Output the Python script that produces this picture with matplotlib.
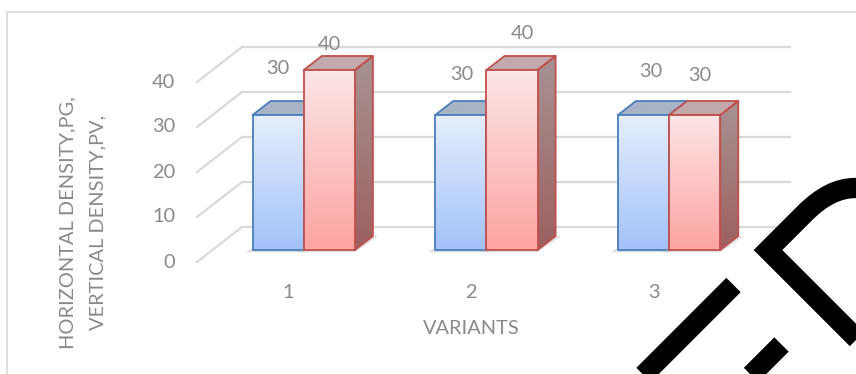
import numpy as np
import matplotlib.pyplot as plt
from matplotlib.patches import Polygon, Rectangle, PathPatch
from matplotlib.path import Path
from matplotlib.colors import LinearSegmentedColormap

# data
categories = ['1', '2', '3']
horizontal_density = [30, 30, 30]   # blue series
vertical_density = [40, 40, 30]     # red series
yticks = [0, 10, 20, 30, 40]
ylabel_lines = ['HORIZONTAL DENSITY,PG,', 'VERTICAL DENSITY,PV,']
xlabel = 'VARIANTS'

# label nudges (pixels) for the value labels, as Excel placed them
blue_lbl_off = [(0, 46), (1, 40), (7, 43)]
red_lbl_off = [(0, 25), (10, 36), (5, 39)]

W, H = 856, 374
plt.rcParams['font.family'] = ['Lato', 'DejaVu Sans']
GRAY = '#8a8a8a'
FS = 14.4

fig = plt.figure(figsize=(W / 100, H / 100), dpi=100)
ax = fig.add_axes([0, 0, 1, 1])
ax.set_axis_off()

# oblique "3d" geometry in data units
PX_X = 182.67          # pixels per category
PX_Y = 4.5             # pixels per value unit
X0_PX, Y0_PX = 197, 262
DX, DY = 45 / PX_X, 35 / PX_Y   # full depth of the floor
D1, D2 = 0.343, 0.743           # bar front / back depth
BW = 0.28

ax.set_xlim(0.5 - X0_PX / PX_X, 0.5 + (W - X0_PX) / PX_X)
ax.set_ylim(-(H - Y0_PX) / PX_Y, Y0_PX / PX_Y)

# chart frame
fig.patches.append(Rectangle((7 / W, -0.1), 1.2, 1 - 12 / H + 0.1,
                             transform=fig.transFigure, fill=False,
                             ec='#d9d9d9', lw=1.2))

# walls gridlines
nc = len(categories)
for v in yticks:
    ax.plot([0.5 + DX, nc + 0.5 + DX], [v + DY, v + DY], color='#d9d9d9', lw=1.6, zorder=1)
    ax.plot([0.5, 0.5 + DX], [v, v + DY], color='#d9d9d9', lw=1.6, zorder=1)
    ax.text(0.5 - 22 / PX_X, v, str(v), ha='right', va='center', color=GRAY, fontsize=FS)


def grad_face(verts, top, bottom, ec, z):
    cmap = LinearSegmentedColormap.from_list('g', [bottom, top])
    verts = np.array(verts)
    poly = Polygon(verts, closed=True, fc='none', ec=ec, lw=1.3, zorder=z + 0.1,
                   joinstyle='round')
    ax.add_patch(poly)
    xs, ys = verts[:, 0], verts[:, 1]
    g = np.linspace(0, 1, 64).reshape(-1, 1)
    im = ax.imshow(g, extent=(xs.min(), xs.max(), ys.min(), ys.max()), origin='lower',
                   aspect='auto', cmap=cmap, zorder=z, interpolation='bilinear')
    im.set_clip_path(Polygon(verts, closed=True, transform=ax.transData))


def bar3d(x0, x1, v, front, side, topc, ec, z):
    y0 = D1 * DY
    sx = D1 * DX
    a, b = x0 + sx, x1 + sx
    ddx, ddy = (D2 - D1) * DX, (D2 - D1) * DY
    # soft floor shadow
    ax.add_patch(Polygon([(a - 0.04, y0 - 0.5), (b, y0 - 0.5), (b + ddx + 0.03, y0 + ddy),
                          (a + ddx, y0 + ddy)], closed=True, fc='#a6a6a6', ec='none',
                         alpha=0.35, zorder=z - 0.5))
    grad_face([(b, y0), (b + ddx, y0 + ddy), (b + ddx, y0 + v + ddy), (b, y0 + v)],
              side[0], side[1], ec, z)
    grad_face([(a, y0 + v), (b, y0 + v), (b + ddx, y0 + v + ddy), (a + ddx, y0 + v + ddy)],
              topc, topc, ec, z)
    grad_face([(a, y0), (b, y0), (b, y0 + v), (a, y0 + v)], front[0], front[1], ec, z + 0.2)
    return (a + b) / 2, y0 + v


for i, c in enumerate(range(1, nc + 1)):
    bx, by = bar3d(c - BW, c, horizontal_density[i], ('#e4eefd', '#a3c2f9'),
                   ('#8ea6c8', '#6f8fbf'), '#a8b3c6', '#4a7ebb', 3)
    rx, ry = bar3d(c, c + BW, vertical_density[i], ('#fde5e6', '#fca4a1'),
                   ('#a89292', '#9d6060'), '#c2aaab', '#c0504d', 4)
    ax.annotate(str(horizontal_density[i]), (bx, by), xytext=blue_lbl_off[i],
                textcoords='offset pixels', ha='center', va='center', color=GRAY, fontsize=FS)
    ax.annotate(str(vertical_density[i]), (rx, ry), xytext=red_lbl_off[i],
                textcoords='offset pixels', ha='center', va='center', color=GRAY, fontsize=FS)
    ax.text(c, -30 / PX_Y, categories[i], ha='center', va='center', color=GRAY, fontsize=FS)

ax.text((nc + 1) / 2, -67 / PX_Y, xlabel, ha='center', va='center', color=GRAY, fontsize=FS)
# two-line rotated axis title, one text per line
for k, line in enumerate(ylabel_lines):
    ax.text(0.5 - (X0_PX - 68 - 30 * k) / PX_X, 39 / PX_Y, line, ha='center', va='center',
            rotation=90, color=GRAY, fontsize=FS)


# watermark strokes over the lower right corner (image pixel coords)
def fpt(x, y):
    return (x / W, 1 - y / H)


def stroke(pts, codes=None):
    p = Path([fpt(*q) for q in pts], codes)
    fig.patches.append(PathPatch(p, transform=fig.transFigure, fill=False, ec='black',
                                 lw=14.6, capstyle='butt', joinstyle='miter', zorder=10))


stroke([(900, 382), (768, 250), (805, 213), (830, 188), (855, 188), (900, 188)],
       [Path.MOVETO, Path.LINETO, Path.LINETO, Path.CURVE3, Path.CURVE3, Path.LINETO])
stroke([(733.5, 285), (635, 383.5)])
stroke([(781.5, 344.5), (745, 381)])

fig.savefig('out.png', dpi=100, facecolor='white')
